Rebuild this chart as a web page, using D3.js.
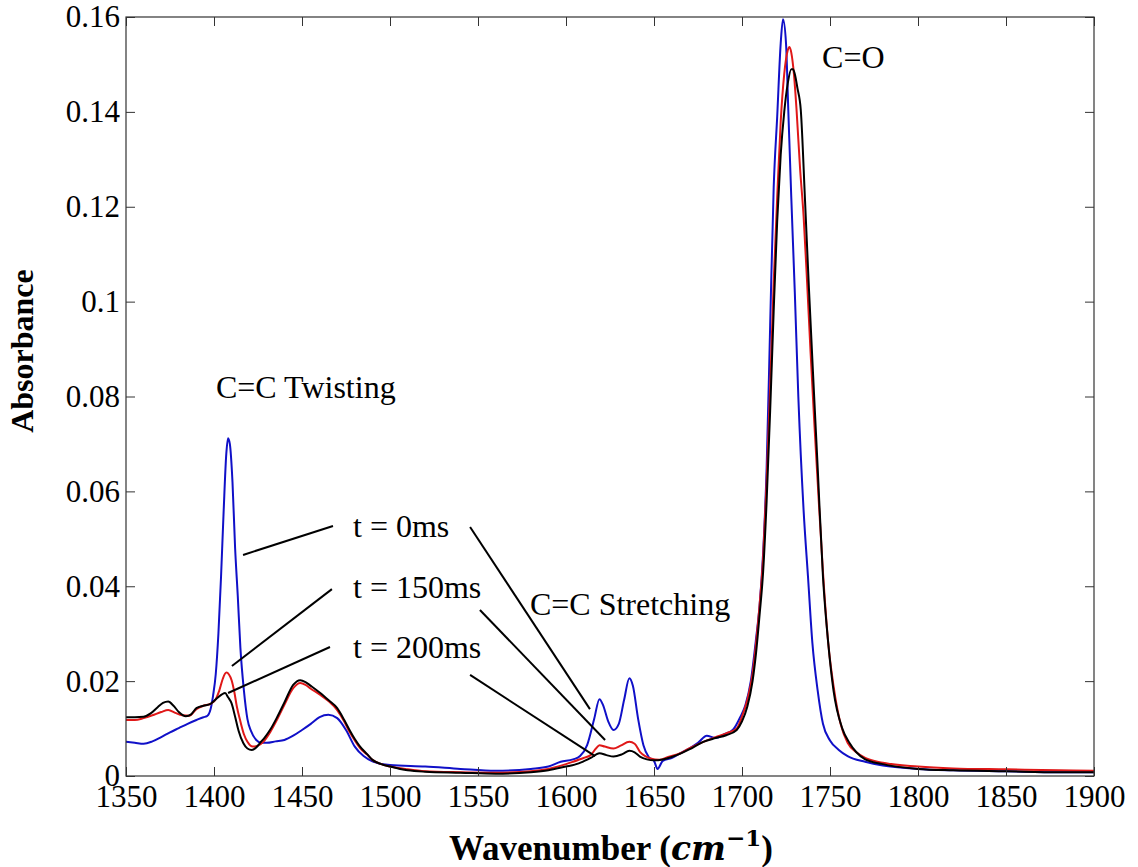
<!DOCTYPE html>
<html>
<head>
<meta charset="utf-8">
<script src="https://cdn.jsdelivr.net/npm/d3@7"></script>
<style>
  body { margin: 0; background: #fff; }
  text { font-family: "Liberation Serif", "Times New Roman", serif; }
</style>
</head>
<body>
<div id="container"></div>
<script>
// wavenumber / absorbance pairs
var wave0 = [1350,1355,1360,1365,1370,1375,1380,1385,1390,1394,1396,1398,1399.5,1401,1402.5,1404,1405.5,1407,1408,1409,1410.5,1412,1413.5,1415,1417,1419,1421,1424,1427,1430,1435,1440,1445,1450,1455,1460,1465,1470,1475,1480,1485,1490,1500,1520,1540,1560,1580,1590,1597,1604,1608,1612,1616,1619,1621,1624,1627,1630,1633,1636,1638,1641,1644,1647,1650,1652,1655,1660,1665,1670,1675,1680,1685,1690,1695,1699,1702,1705,1708,1710,1712,1714,1716,1718,1720,1722,1723.3,1725,1726.3,1728,1730,1732,1735,1737.5,1740,1743,1746,1750,1755,1760,1770,1780,1800,1820,1850,1880,1900];
var abs0 = [.0072,.0070,.0068,.0073,.0082,.0092,.0101,.0110,.0118,.0124,.0126,.0140,.0170,.0215,.0300,.0420,.0560,.0680,.0712,.0700,.0620,.0480,.0380,.0270,.0180,.0120,.0095,.0076,.0070,.0070,.0073,.0076,.0085,.0097,.0110,.0124,.0129,.0122,.0097,.0062,.0042,.0031,.0023,.0020,.0015,.0011,.0015,.0020,.0030,.0035,.0042,.0065,.0120,.0162,.0150,.0115,.0097,.0110,.0160,.0206,.0190,.0120,.0065,.0040,.0032,.0015,.0032,.0038,.0048,.0058,.0070,.0085,.0080,.0088,.0098,.0124,.0150,.0200,.0290,.0360,.0470,.0650,.0950,.1240,.1390,.1545,.1595,.1545,.1404,.1220,.1020,.0800,.0560,.0420,.0280,.0180,.0110,.0075,.0055,.0042,.0030,.0022,.0015,.0012,.0010,.0008,.0008];

var wave150 = [1350,1355,1360,1365,1370,1374,1378,1382,1386,1390,1394,1398,1401,1403,1405,1407,1408.5,1410,1411.5,1413,1415,1417,1419,1422,1425,1428,1432,1436,1440,1445,1449,1452,1455,1460,1465,1470,1474,1477,1480,1483,1487,1490,1495,1500,1510,1520,1540,1560,1580,1590,1600,1604,1610,1614,1617,1619,1622,1627,1631,1636,1639,1642,1645,1648,1653,1658,1665,1670,1678,1685,1691,1697,1700,1703,1706,1708,1710,1712,1714,1716,1718,1720,1722,1724,1726,1727,1728,1729.5,1731,1733,1735,1737,1739,1741,1743,1746,1749,1752,1756,1760,1765,1770,1780,1800,1820,1850,1880,1900];
var abs150 = [.0118,.0118,.0122,.0128,.0135,.0139,.0133,.0128,.0127,.0141,.0148,.0152,.0162,.0180,.0205,.0218,.0214,.0202,.0178,.0146,.0115,.0088,.0072,.0062,.0064,.0072,.0093,.0120,.0150,.0185,.0196,.0192,.0184,.0172,.0158,.0139,.0115,.0093,.0075,.0059,.0045,.0034,.0025,.0020,.0014,.0010,.0008,.0007,.0010,.0015,.0025,.0030,.0038,.0044,.0058,.0065,.0062,.0058,.0064,.0072,.0068,.0051,.0042,.0037,.0034,.0040,.0048,.0058,.0072,.0082,.0090,.0100,.0125,.0160,.0215,.0280,.0360,.0460,.0620,.0820,.1040,.1220,.1380,.1480,.1530,.1537,.1525,.1480,.1404,.1280,.1180,.1040,.0890,.0750,.0620,.0430,.0280,.0190,.0110,.0070,.0050,.0038,.0028,.0020,.0016,.0014,.0012,.0011];

var wave200 = [1350,1355,1360,1364,1368,1371,1374,1377,1380,1384,1387,1390,1394,1398,1402,1404.5,1406.3,1408,1410,1412,1414,1416.7,1419,1421.5,1424,1426,1429,1432,1436,1440,1445,1449,1452,1455,1460,1465,1470,1474,1477,1480,1483,1487,1490,1495,1500,1510,1520,1540,1560,1580,1590,1600,1605,1610,1614,1617,1619,1623,1627,1632,1636,1639,1642,1646,1650,1655,1660,1665,1670,1678,1685,1691,1697,1700,1703,1706,1708,1710,1712,1714,1716,1718,1720,1722,1724,1726,1728,1729,1730,1731.5,1733.4,1735.8,1738,1741,1743,1746,1749,1752,1757,1761,1765,1770,1780,1800,1820,1850,1880,1900];
var abs200 = [.0124,.0124,.0125,.0132,.0145,.0154,.0157,.0148,.0135,.0126,.0130,.0143,.0148,.0152,.0165,.0172,.0175,.0166,.0153,.0125,.0095,.0069,.0058,.0055,.0060,.0069,.0082,.0098,.0125,.0155,.0192,.0202,.0198,.0190,.0176,.0160,.0143,.0118,.0097,.0078,.0062,.0046,.0034,.0025,.0020,.0012,.0009,.0007,.0005,.0008,.0012,.0020,.0024,.0031,.0038,.0045,.0048,.0044,.0041,.0046,.0053,.0050,.0041,.0035,.0033,.0035,.0040,.0047,.0056,.0072,.0080,.0086,.0097,.0115,.0146,.0200,.0260,.0340,.0430,.0580,.0770,.0980,.1170,.1310,.1400,.1460,.1490,.1490,.1480,.1450,.1404,.1214,.1030,.0800,.0650,.0420,.0280,.0180,.0100,.0070,.0050,.0035,.0025,.0015,.0012,.0010,.0008,.0008];

var seriesNames = ["t = 0ms", "t = 150ms", "t = 200ms"];
var seriesColors = ["#1010c8", "#e01818", "#000000"];

var xTicks = [1350,1400,1450,1500,1550,1600,1650,1700,1750,1800,1850,1900];
var yTicks = [0,0.02,0.04,0.06,0.08,0.1,0.12,0.14,0.16];
var yTickLabels = ["0","0.02","0.04","0.06","0.08","0.1","0.12","0.14","0.16"];

// annotation text anchored at its left baseline, in data units
var labels = [
    {text: "C=C Twisting", x: 1401.1, y: 0.0797},
    {text: "C=O", x: 1745.5, y: 0.1492},
    {text: "C=C Stretching", x: 1579.5, y: 0.0339},
    {text: "t = 0ms", x: 1479.0, y: 0.0504},
    {text: "t = 150ms", x: 1479.0, y: 0.0375},
    {text: "t = 200ms", x: 1479.0, y: 0.0249}
];
var leaders = [
    [1416.5, 0.0466, 1467.6, 0.0527],
    [1545.5, 0.0525, 1613.6, 0.0141],
    [1410.2, 0.0232, 1467.0, 0.0394],
    [1551.1, 0.0350, 1622.2, 0.0076],
    [1408.0, 0.0175, 1465.9, 0.0272],
    [1545.5, 0.0213, 1616.5, 0.0042]
];

var width = 1138,
    height = 867;
var margin = {left: 126, right: 44, top: 17, bottom: 91};

var svg = d3.select("#container").append("svg")
    .attr("width", width)
    .attr("height", height);

svg.append("rect").attr("width", width).attr("height", height).attr("fill", "#fff");

var x = d3.scaleLinear().domain([1350, 1900]).range([margin.left, width - margin.right]);
var y = d3.scaleLinear().domain([0, 0.16]).range([height - margin.bottom, margin.top]);

var series = [
    {wave: wave0, abs: abs0},
    {wave: wave150, abs: abs150},
    {wave: wave200, abs: abs200}
];

var line = d3.line()
    .x(d => x(d[0]))
    .y(d => y(d[1]))
    .curve(d3.curveMonotoneX);

var plot = svg.append("g");
plot.selectAll(".spec")
    .data(series)
    .enter().append("path")
    .attr("class", "spec")
    .attr("d", s => line(d3.zip(s.wave, s.abs)))
    .attr("fill", "none")
    .attr("stroke", (s, i) => seriesColors[i])
    .attr("stroke-width", 2)
    .attr("stroke-linejoin", "round");

// axes, ticks pointing inwards on all four sides
function styleAxis(g) {
    g.select(".domain").remove();
    g.selectAll(".tick line").attr("stroke", "#333");
    g.selectAll(".tick text")
        .attr("fill", "#000")
        .style("font-family", "'Liberation Serif', serif")
        .style("font-size", "31px");
}

svg.append("g")
    .attr("transform", "translate(0," + y(0) + ")")
    .call(d3.axisBottom(x).tickValues(xTicks).tickFormat(d3.format("d")).tickSizeInner(-9).tickSizeOuter(0).tickPadding(9))
    .call(styleAxis);
svg.append("g")
    .attr("transform", "translate(0," + y(0.16) + ")")
    .call(d3.axisTop(x).tickValues(xTicks).tickFormat("").tickSizeInner(-9).tickSizeOuter(0))
    .call(styleAxis);
svg.append("g")
    .attr("transform", "translate(" + x(1350) + ",0)")
    .call(d3.axisLeft(y).tickValues(yTicks).tickFormat((d, i) => yTickLabels[i]).tickSizeInner(-9).tickSizeOuter(0).tickPadding(6))
    .call(styleAxis);
svg.append("g")
    .attr("transform", "translate(" + x(1900) + ",0)")
    .call(d3.axisRight(y).tickValues(yTicks).tickFormat("").tickSizeInner(-9).tickSizeOuter(0))
    .call(styleAxis);

svg.append("rect")
    .attr("x", x(1350))
    .attr("y", y(0.16))
    .attr("width", x(1900) - x(1350))
    .attr("height", y(0) - y(0.16))
    .attr("fill", "none")
    .attr("stroke", "#333")
    .attr("stroke-width", 1.2);

// annotations
svg.selectAll(".leader")
    .data(leaders)
    .enter().append("line")
    .attr("class", "leader")
    .attr("x1", d => x(d[0]))
    .attr("y1", d => y(d[1]))
    .attr("x2", d => x(d[2]))
    .attr("y2", d => y(d[3]))
    .attr("stroke", "#000")
    .attr("stroke-width", 2);

svg.selectAll(".note")
    .data(labels)
    .enter().append("text")
    .attr("class", "note")
    .attr("x", d => x(d.x))
    .attr("y", d => y(d.y))
    .style("font-size", "32px")
    .text(d => d.text);

// axis titles
svg.append("text")
    .attr("transform", "translate(33,351) rotate(-90)")
    .attr("text-anchor", "middle")
    .style("font-size", "32px")
    .style("font-weight", "bold")
    .text("Absorbance");

var xt = svg.append("text")
    .attr("x", 611)
    .attr("y", 860)
    .attr("text-anchor", "middle")
    .style("font-size", "35px")
    .style("font-weight", "bold");
xt.append("tspan").text("Wavenumber (");
xt.append("tspan").style("font-family", "'DejaVu Serif', serif").style("font-style", "italic").style("font-size", "33px").text("cm");
xt.append("tspan").attr("dy", -14).style("font-family", "'DejaVu Serif', serif").style("font-size", "23px").text("\u22121");
xt.append("tspan").attr("dy", 14).text(")");
</script>
</body>
</html>
